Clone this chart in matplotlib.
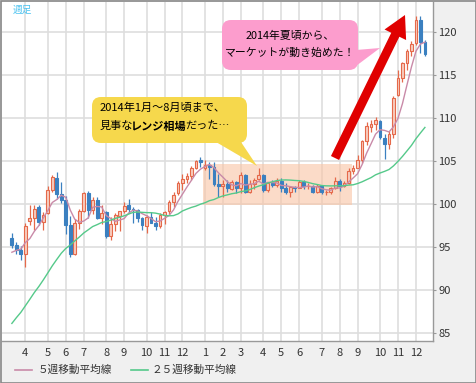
import numpy as np
import pandas as pd
import matplotlib
matplotlib.use("Agg")
import matplotlib.pyplot as plt
from matplotlib import patches
from matplotlib.lines import Line2D
from matplotlib.transforms import IdentityTransform

plt.rcParams["font.family"] = ["Noto Sans CJK JP", "DejaVu Sans"]

W, H = 476, 383

# USD/JPY weekly candles (week starting Monday)
weeks = pd.date_range("2013-03-11", "2014-12-15", freq="W-MON")

opens = [96.0, 95.2, 94.6, 94.2, 98.0, 98.3, 99.6, 97.9, 98.9, 101.6,
         103.0, 101.1, 100.4, 97.5, 94.2, 97.8, 99.2, 101.2, 99.3, 100.4,
         98.3, 99.0, 96.2, 97.6, 98.6, 99.2, 99.9, 99.4, 99.3, 98.3,
         97.4, 98.5, 97.8, 97.4, 98.7, 99.1, 100.2, 101.2, 102.4, 102.9,
         103.2, 104.1, 105.1, 104.1, 104.5, 104.3, 102.3, 102.0, 102.3, 101.7,
         102.5, 101.8, 103.3, 101.4, 102.3, 102.9, 103.3, 101.6, 102.4, 102.2,
         102.6, 101.8, 101.4, 101.9, 101.8, 102.5, 102.0, 102.1, 101.3, 102.0,
         101.3, 101.4, 101.8, 102.6, 102.0, 102.4, 103.8, 104.1, 105.1, 107.3,
         108.9, 109.3, 109.6, 107.6, 106.9, 108.1, 112.6, 114.6, 116.3, 117.7,
         118.7, 121.4, 118.8]
highs = [96.6, 95.6, 95.1, 97.8, 99.9, 99.8, 99.9, 99.0, 102.0, 103.3,
         103.7, 102.5, 100.9, 98.6, 98.2, 99.4, 101.4, 101.5, 100.8, 100.8,
         99.9, 99.2, 98.4, 98.9, 99.2, 100.2, 100.6, 99.6, 99.4, 98.5,
         98.7, 99.0, 98.5, 98.9, 99.1, 100.4, 101.3, 102.6, 103.4, 103.6,
         104.4, 105.1, 105.4, 105.1, 104.9, 104.8, 103.4, 102.7, 102.8, 102.7,
         102.6, 103.7, 103.4, 102.7, 103.0, 104.1, 103.4, 102.5, 102.7, 103.0,
         103.0, 102.4, 102.0, 102.0, 102.8, 102.7, 102.4, 102.2, 102.3, 102.1,
         101.6, 101.9, 103.15, 102.9, 102.6, 104.1, 104.5, 105.7, 107.4, 109.5,
         109.7, 110.1, 109.7, 108.1, 108.4, 112.5, 115.6, 116.5, 118.0, 118.9,
         121.8, 121.8, 119.0]
lows = [94.9, 94.1, 93.5, 92.6, 97.5, 96.9, 97.5, 96.9, 98.8, 101.3,
        100.6, 100.1, 96.5, 93.8, 94.0, 97.0, 99.0, 98.3, 98.8, 98.2,
        97.6, 96.0, 95.8, 96.8, 96.8, 98.9, 98.9, 97.8, 97.9, 96.9,
        96.6, 97.7, 96.9, 97.2, 97.6, 98.8, 99.6, 101.0, 101.6, 102.4,
        102.8, 104.0, 104.3, 103.9, 102.9, 102.0, 100.8, 100.8, 101.4, 101.6,
        101.2, 101.2, 101.2, 101.2, 101.7, 102.8, 101.3, 101.4, 101.9, 101.9,
        101.4, 101.1, 100.8, 101.4, 101.8, 101.7, 101.7, 101.2, 101.2, 101.1,
        101.0, 101.1, 101.7, 101.5, 101.9, 102.3, 103.5, 104.1, 104.7, 106.8,
        108.3, 108.6, 107.5, 105.2, 106.4, 107.6, 112.5, 114.2, 115.5, 117.2,
        118.5, 117.5, 117.2]
closes = [95.2, 94.6, 94.2, 97.4, 98.3, 99.4, 97.9, 98.7, 101.6, 103.1,
          101.1, 100.4, 97.5, 94.2, 97.8, 99.2, 101.2, 99.3, 100.4, 98.3,
          98.9, 96.2, 97.6, 98.7, 99.1, 99.7, 99.4, 99.3, 98.3, 97.5,
          98.5, 97.8, 97.4, 98.7, 99.05, 100.2, 101.0, 102.4, 102.9, 103.2,
          104.1, 105.0, 104.85, 104.5, 104.3, 102.3, 102.0, 102.3, 101.8, 102.5,
          101.8, 103.3, 101.4, 102.3, 102.8, 103.3, 101.6, 102.4, 102.2, 102.6,
          101.8, 101.4, 101.9, 101.8, 102.5, 102.0, 102.1, 101.3, 102.0, 101.3,
          101.4, 101.8, 102.6, 102.0, 102.4, 103.8, 104.1, 105.1, 107.3, 109.0,
          109.3, 109.7, 107.7, 106.9, 108.1, 112.3, 114.6, 116.3, 117.7, 118.6,
          121.4, 118.8, 117.4]

# closes of the 24 weeks before the first candle, only used for the averages
closes_before = [77.95, 78.65, 78.45, 79.25, 79.90, 80.40, 79.50, 81.30,
                 82.40, 82.55, 82.45, 83.50, 84.20, 85.95, 88.15, 89.20,
                 90.05, 90.85, 92.75, 92.70, 93.50, 93.45, 93.60, 96.00]

# "range" period Jan-Aug 2014 and its price band
range_weeks = (42.5, 75.7)
range_prices = (99.9, 104.65)

up_edge = "#e5694a"
up_fill = "#f8cdbf"
down_col = "#3b80c0"

o = np.array(opens)
h = np.array(highs)
l = np.array(lows)
c = np.array(closes)
x = np.arange(len(weeks))

all_close = pd.Series(closes_before + closes)
n0 = len(closes_before)
ma5 = all_close.rolling(5).mean().to_numpy()[n0:]
ma25 = all_close.rolling(25).mean().to_numpy()[n0:]

fig = plt.figure(figsize=(W / 100, H / 100), dpi=100, facecolor="#f0f0f0")
ax = fig.add_axes([2 / W, 42 / H, 431 / W, 339 / H])
ax.set_facecolor("white")
ax.set_xlim(-2.2, 93.8)
ax.set_ylim(84.03, 123.45)

# grid at first week of each month
month_idx = [i for i in range(1, len(weeks)) if weeks[i].month != weeks[i - 1].month]
ax.set_xticks(month_idx)
ax.set_xticklabels([str(weeks[i].month) for i in month_idx])
ax.set_yticks(np.arange(85, 121, 5))
ax.yaxis.tick_right()
ax.tick_params(axis="x", length=0, pad=5, labelsize=8, colors="#333333")
ax.tick_params(axis="y", length=2, pad=2, labelsize=8, colors="#333333",
               color="#999999")
ax.grid(True, color="#dedede", lw=1.2)
ax.set_axisbelow(True)
for s in ["left", "top"]:
    ax.spines[s].set_visible(False)
for s in ["right", "bottom"]:
    ax.spines[s].set_color("#999999")
    ax.spines[s].set_linewidth(1.0)

ax.add_patch(patches.Rectangle((range_weeks[0], range_prices[0]),
                               range_weeks[1] - range_weeks[0],
                               range_prices[1] - range_prices[0],
                               facecolor="#f9c4a4", alpha=0.6, lw=0, zorder=1))

# candles
up = c >= o
body_lo = np.minimum(o, c)
body_h = np.maximum(np.abs(c - o), 0.1)
ax.vlines(x[up], l[up], h[up], color=up_edge, lw=0.9, zorder=2)
ax.vlines(x[~up], l[~up], h[~up], color=down_col, lw=0.9, zorder=2)
ax.bar(x[up], body_h[up], bottom=body_lo[up], width=0.62,
       facecolor=up_fill, edgecolor=up_edge, lw=0.8, zorder=3)
ax.bar(x[~up], body_h[~up], bottom=body_lo[~up], width=0.62,
       color=down_col, edgecolor=down_col, lw=0.8, zorder=3)

ax.plot(x, ma5, color="#c98aa8", lw=1.0, zorder=4)
ax.plot(x, ma25, color="#55c98a", lw=1.0, zorder=4)

fig.text(13 / W, 1 - 10 / H, "週足", fontsize=7, color="#4cc3f0", va="center")

ident = IdentityTransform()


def py(y):
    return H - y


# yellow callout
fig.add_artist(patches.FancyBboxPatch((92, py(143)), 155, 46,
                                      boxstyle="round,pad=0,rounding_size=9",
                                      facecolor="#f6d84c", lw=0, transform=ident))
fig.add_artist(patches.Polygon([(216, py(142)), (257, py(166)), (241, py(142))],
                               closed=True, facecolor="#f6d84c", lw=0, transform=ident))
fig.text(100 / W, 1 - 108 / H, "2014年1月～8月頃まで、", fontsize=8,
         va="center", color="black")

fig.canvas.draw()
rend = fig.canvas.get_renderer()
xcur = 100
for piece, wt in [("見事な", "normal"), ("レンジ相場", "bold"), ("だった…", "normal")]:
    t = fig.text(xcur / W, 1 - 126 / H, piece, fontsize=8, va="center",
                 weight=wt, color="black")
    xcur = t.get_window_extent(rend).x1 - 2

# pink callout
fig.add_artist(patches.FancyBboxPatch((222, py(70)), 136, 50,
                                      boxstyle="round,pad=0,rounding_size=9",
                                      facecolor="#fc9dcd", lw=0, transform=ident))
fig.add_artist(patches.Polygon([(356, py(50)), (380, py(48)), (356, py(66))],
                               closed=True, facecolor="#fc9dcd", lw=0, transform=ident))
fig.text(290 / W, 1 - 36 / H, "2014年夏頃から、", fontsize=7.8,
         va="center", ha="center", color="black")
fig.text(290 / W, 1 - 53 / H, "マーケットが動き始めた！", fontsize=7.8,
         va="center", ha="center", color="black")

# red arrow
fig.add_artist(patches.FancyArrow(335, py(158), 70, 143, width=9, head_width=24,
                                  head_length=22, length_includes_head=True,
                                  facecolor="#e00000", lw=0, transform=ident))

# legend
fig.add_artist(Line2D([15 / W, 32 / W], [1 - 370 / H] * 2, color="#c98aa8", lw=1.2))
fig.text(38 / W, 1 - 370 / H, "５週移動平均線", fontsize=7.7, va="center", color="#333333")
fig.add_artist(Line2D([131 / W, 148 / W], [1 - 370 / H] * 2, color="#55c98a", lw=1.2))
fig.text(151 / W, 1 - 370 / H, "２５週移動平均線", fontsize=7.7, va="center", color="#333333")

# outer frame
fig.add_artist(patches.Rectangle((0.5, 0.5), W - 1, H - 1, fill=False,
                                 edgecolor="#888888", lw=1.2, transform=ident))

fig.savefig("out.png", dpi=100, facecolor=fig.get_facecolor())
